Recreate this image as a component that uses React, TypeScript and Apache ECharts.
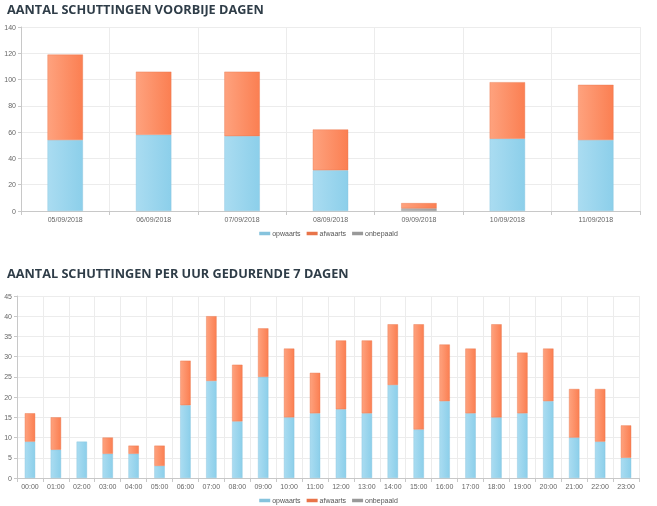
import React, { useEffect, useRef } from "react";
import * as echarts from "echarts";

const dayLabels = ["05/09/2018", "06/09/2018", "07/09/2018", "08/09/2018", "09/09/2018", "10/09/2018", "11/09/2018"];
const dayOpwaarts = [54, 58, 57, 31, 0, 55, 54];
const dayAfwaarts = [65, 48, 49, 31, 4, 43, 42];
const dayOnbepaald = [0, 0, 0, 0, 2, 0, 0];

const hourLabels = ["00:00", "01:00", "02:00", "03:00", "04:00", "05:00", "06:00", "07:00", "08:00", "09:00", "10:00", "11:00", "12:00", "13:00", "14:00", "15:00", "16:00", "17:00", "18:00", "19:00", "20:00", "21:00", "22:00", "23:00"];
const hourOpwaarts = [9, 7, 9, 6, 6, 3, 18, 24, 14, 25, 15, 16, 17, 16, 23, 12, 19, 16, 15, 16, 19, 10, 9, 5];
const hourAfwaarts = [7, 8, 0, 4, 2, 5, 11, 16, 14, 12, 17, 10, 17, 18, 15, 26, 14, 16, 23, 15, 13, 12, 13, 8];
const hourOnbepaald = [0, 0, 0, 0, 0, 0, 0, 0, 0, 0, 0, 0, 0, 0, 0, 0, 0, 0, 0, 0, 0, 0, 0, 0];

const titles = ["AANTAL SCHUTTINGEN VOORBIJE DAGEN", "AANTAL SCHUTTINGEN PER UUR GEDURENDE 7 DAGEN"];
const seriesNames = ["opwaarts", "afwaarts", "onbepaald"];

const blue = new echarts.graphic.LinearGradient(0, 0, 1, 0, [
  { offset: 0, color: "#aadcf1" },
  { offset: 1, color: "#8ccfea" },
]);
const orange = new echarts.graphic.LinearGradient(0, 0, 1, 0, [
  { offset: 0, color: "#fea27e" },
  { offset: 1, color: "#fb7f52" },
]);
const gray = new echarts.graphic.LinearGradient(0, 0, 1, 0, [
  { offset: 0, color: "#b5b5b5" },
  { offset: 1, color: "#a0a0a0" },
]);

const nz = (arr: number[]) => arr.map((v) => (v === 0 ? "-" : v));

export default function App() {
  const ref = useRef<HTMLDivElement>(null);
  useEffect(() => {
    if (!ref.current) return;
    const chart = echarts.init(ref.current, null, { renderer: "svg" });
    const axisLabel = { fontSize: 7, color: "#666", fontFamily: "Arial" };
    const mkX = (gi: number, data: string[]) => ({
      type: "category",
      gridIndex: gi,
      data,
      axisLine: { lineStyle: { color: "#c8c8c8" } },
      axisTick: { show: true, length: 4, lineStyle: { color: "#c8c8c8" } },
      axisLabel: { ...axisLabel, margin: 5 },
      splitLine: { show: true, lineStyle: { color: "#ececec" } },
    });
    const mkY = (gi: number, max: number, interval: number) => ({
      type: "value",
      gridIndex: gi,
      min: 0,
      max,
      interval,
      axisLine: { show: true, lineStyle: { color: "#c8c8c8" } },
      axisTick: { show: true, length: 3, lineStyle: { color: "#c8c8c8" } },
      axisLabel: { ...axisLabel, margin: 5 },
      splitLine: { show: true, lineStyle: { color: "#ececec" } },
    });
    const mkSeries = (gi: number, opw: number[], afw: number[], onb: number[], bw: string) => {
      const stack = "s" + gi;
      const common = {
        type: "bar",
        stack,
        xAxisIndex: gi,
        yAxisIndex: gi,
        barWidth: bw,
      };
      return [
        { ...common, name: "onbepaald", data: nz(onb), itemStyle: { color: gray, borderColor: "#999", borderWidth: 0.4 } },
        { ...common, name: "opwaarts", data: nz(opw), itemStyle: { color: blue, borderColor: "#86c3dd", borderWidth: 0.4 } },
        { ...common, name: "afwaarts", data: nz(afw), itemStyle: { color: orange, borderColor: "#e87449", borderWidth: 0.4 } },
      ];
    };
    const legendCommon = {
      data: seriesNames,
      icon: "rect",
      itemWidth: 9,
      itemHeight: 1.5,
      itemGap: 6,
      textStyle: { fontSize: 7, color: "#555", fontFamily: "Arial", padding: [0, 0, 0, -2] },
      left: "center",
    };
    const titleStyle = { fontSize: 12.7, fontWeight: "bold", color: "#2f3d48", fontFamily: "Open Sans" };
    chart.setOption({
      animation: false,
      color: ["#aadcf1", "#fb8a5f", "#aaaaaa"],
      title: [
        { text: titles[0], left: 2, top: -3, textStyle: titleStyle },
        { text: titles[1], left: 2, top: 261, textStyle: titleStyle },
      ],
      legend: [
        { ...legendCommon, top: 225 },
        { ...legendCommon, top: 492 },
      ],
      grid: [
        { left: 21, right: 17, top: 27, height: 184, containLabel: false },
        { left: 17, right: 18, top: 296, height: 182, containLabel: false },
      ],
      xAxis: [mkX(0, dayLabels), mkX(1, hourLabels)],
      yAxis: [mkY(0, 140, 20), mkY(1, 45, 5)],
      series: [
        ...mkSeries(0, dayOpwaarts, dayAfwaarts, dayOnbepaald, "40%"),
        ...mkSeries(1, hourOpwaarts, hourAfwaarts, hourOnbepaald, "40%"),
      ],
    });
    return () => chart.dispose();
  }, []);
  return <div ref={ref} style={{ position: "fixed", left: 0, top: 0, width: 657, height: 506 }} />;
}
